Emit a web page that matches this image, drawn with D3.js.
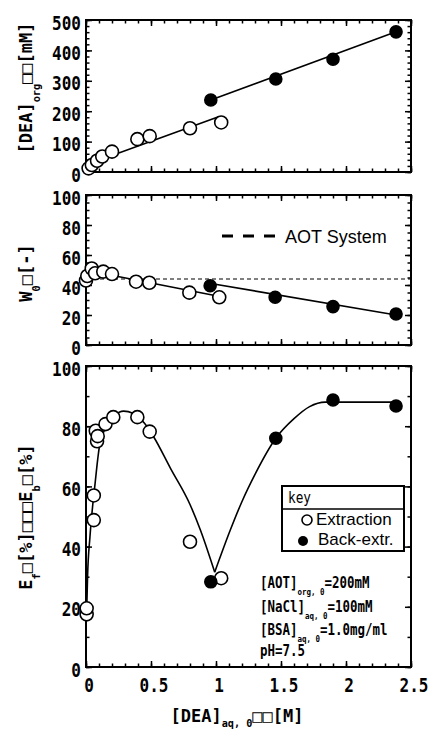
<!DOCTYPE html>
<html>
<head>
<meta charset="utf-8">
<script src="https://cdn.jsdelivr.net/npm/d3@7"></script>
<style>
  body { margin: 0; background: #fff; }
  svg { display: block; }
</style>
</head>
<body>
<svg id="chart" width="431" height="731"></svg>
<script>
// ---- data ----
// x: [DEA]aq,0 (M)
const xTicks = [0, 0.5, 1, 1.5, 2, 2.5];

// panel 1: [DEA]org (mM)
const deaOrgTicks = [0, 100, 200, 300, 400, 500];
const deaOrgExtraction = [[0.02, 12], [0.045, 23], [0.085, 37], [0.125, 51], [0.2, 67],
                          [0.395, 108], [0.49, 118], [0.8, 144], [1.04, 163]];
const deaOrgBack = [[0.96, 237], [1.46, 306], [1.9, 371], [2.385, 461]];
const deaOrgFitExtraction = [[0.03, 28], [1.02, 182]];
const deaOrgFitBack = [[0.96, 237], [2.385, 461]];

// panel 2: W0 (-)
const w0Ticks = [0, 20, 40, 60, 80, 100];
const w0Extraction = [[0.0, 43], [0.01, 46], [0.044, 51], [0.07, 47.8], [0.133, 48.9], [0.2, 47.3],
                      [0.385, 42.2], [0.487, 41.5], [0.795, 34.9], [1.025, 31.8]];
const w0Back = [[0.955, 39.5], [1.455, 31.8], [1.9, 25.6], [2.385, 20.7]];
const w0FitExtraction = [[0.05, 49], [1.02, 32.5]];
const w0FitBack = [[0.96, 41], [2.385, 20]];
const w0Aot = 44;

// panel 3: Ef / Eb (%)
const effTicks = [0, 20, 40, 60, 80, 100];
const effExtraction = [[0.005, 17.5], [0.005, 19.5], [0.06, 48.8], [0.06, 57], [0.075, 78.5], [0.085, 75],
                       [0.09, 76.7], [0.15, 80.7], [0.21, 83], [0.395, 83], [0.49, 78.2], [0.8, 41.6], [1.04, 29.5]];
const effBack = [[0.96, 28.3], [1.46, 76], [1.9, 88.7], [2.385, 86.7]];
const effCurveExtraction = [[0.005, 18], [0.012, 30], [0.03, 43], [0.05, 53], [0.07, 61], [0.09, 69],
                            [0.11, 75], [0.17, 80.5], [0.22, 83.5], [0.29, 85], [0.36, 84.3], [0.45, 81],
                            [0.52, 76.5], [0.65, 66], [0.8, 54], [0.88, 45.5], [0.99, 31.5]];
const effCurveBack = [[0.99, 31.5], [1.11, 45.5], [1.2, 55], [1.3, 64], [1.46, 76], [1.6, 82.5],
                      [1.72, 86.5], [1.84, 88], [2.0, 88], [2.385, 88]];

const legendLabels = ["Extraction", "Back-extr."];
const conditions = [
  [["[AOT]"], ["org, 0", "sub"], ["=200mM"]],
  [["[NaCl]"], ["aq, 0", "sub"], ["=100mM"]],
  [["[BSA]"], ["aq, 0", "sub"], ["=1.0mg/ml"]],
  [["pH=7.5"]]
];

// ---- drawing ----
const MONO = "'DejaVu Sans Mono', 'Liberation Mono', monospace";
const SANS = "'Liberation Sans', Arial, sans-serif";
const svg = d3.select("#chart");
const x = d3.scaleLinear([0, 2.5], [86, 411]);

function txt(parent, px, py, parts, o = {}) {
  const size = o.size || 16, sx = o.sx || 1, subShift = o.subShift || 0.45;
  const g = parent.append("g")
    .attr("transform", `translate(${px},${py})` + (o.rotate ? " rotate(-90)" : "") + ` scale(${sx},1)`);
  const t = g.append("text")
    .attr("text-anchor", o.anchor || "start")
    .attr("font-family", o.font || MONO)
    .attr("font-weight", o.weight || "bold")
    .attr("font-size", size)
    .attr("fill", "#000");
  let shift = 0;
  parts.forEach(([s, kind]) => {
    const sub = kind === "sub";
    const down = sub ? size * subShift : 0;
    t.append("tspan")
      .attr("dy", down - shift)
      .attr("font-size", sub ? size * 0.6 : size)
      .text(s);
    shift = down;
  });
  return t;
}

function panel(y, majors, minorStep, showX) {
  const g = svg.append("g");
  const [top, bottom] = [y.range()[1], y.range()[0]];
  const xMinor = d3.range(0, 2.5001, 0.1);
  const yMinor = d3.range(y.domain()[0], y.domain()[1] + 0.001, minorStep);
  const tickAxis = (axis, tv, size) => axis.tickValues(tv).tickSize(size).tickSizeOuter(0).tickFormat("");

  [[d3.axisBottom, bottom], [d3.axisTop, top]].forEach(([ax, pos]) => {
    g.append("g").attr("transform", `translate(0,${pos})`).call(tickAxis(ax(x), xMinor, -3.5));
    g.append("g").attr("transform", `translate(0,${pos})`).call(tickAxis(ax(x), xTicks, -6));
  });
  [[d3.axisLeft, x(0)], [d3.axisRight, x(2.5)]].forEach(([ax, pos]) => {
    g.append("g").attr("transform", `translate(${pos},0)`).call(tickAxis(ax(y), yMinor, -3.5));
    g.append("g").attr("transform", `translate(${pos},0)`).call(tickAxis(ax(y), majors, -6));
  });
  g.selectAll(".domain").remove();
  g.selectAll(".tick line").attr("stroke", "#000").attr("stroke-width", 1.5);

  g.append("rect")
    .attr("x", x(0)).attr("y", top)
    .attr("width", x(2.5) - x(0)).attr("height", bottom - top)
    .attr("fill", "none").attr("stroke", "#000").attr("stroke-width", 2);

  majors.forEach(v => txt(g, 81, y(v) + 9.5, [[String(v)]], { anchor: "end", size: 20, sx: 0.8 }));
  if (showX) {
    xTicks.forEach(v => txt(g, x(v) + 3, 692, [[String(v)]], { anchor: "middle", size: 20, sx: 0.8 }));
  }
  return g;
}

function lineTo(g, y, pts, curve, dash, width) {
  g.append("path")
    .attr("d", d3.line().x(d => x(d[0])).y(d => y(d[1])).curve(curve || d3.curveLinear)(pts))
    .attr("fill", "none").attr("stroke", "#000")
    .attr("stroke-width", width || 1.6)
    .attr("stroke-dasharray", dash || null);
}

function dots(g, y, pts, filled) {
  g.selectAll(null).data(pts).join("circle")
    .attr("cx", d => x(d[0])).attr("cy", d => y(d[1]))
    .attr("r", filled ? 6 : 6.5)
    .attr("fill", filled ? "#000" : "#fff")
    .attr("stroke", "#000").attr("stroke-width", 1.6);
}

// panel 1
const y1 = d3.scaleLinear([0, 500], [172, 20]);
const g1 = panel(y1, deaOrgTicks, 20, false);
lineTo(g1, y1, deaOrgFitExtraction);
lineTo(g1, y1, deaOrgFitBack);
dots(g1, y1, deaOrgExtraction, false);
dots(g1, y1, deaOrgBack, true);
txt(svg, 32, 88, [["[DEA]"], ["org", "sub"], ["□□[mM]"]], { rotate: true, anchor: "middle", size: 17 });

// panel 2
const y2 = d3.scaleLinear([0, 100], [345, 195]);
const g2 = panel(y2, w0Ticks, 5, false);
lineTo(g2, y2, [[0, w0Aot], [2.5, w0Aot]], null, "4,3", 1.2);
lineTo(g2, y2, w0FitExtraction);
lineTo(g2, y2, w0FitBack);
dots(g2, y2, w0Extraction, false);
dots(g2, y2, w0Back, true);
g2.append("line")
  .attr("x1", 222).attr("x2", 278).attr("y1", 236).attr("y2", 236)
  .attr("stroke", "#000").attr("stroke-width", 3).attr("stroke-dasharray", "11,10");
txt(g2, 285, 243, [["AOT System"]], { font: SANS, weight: "normal", size: 18 });
txt(svg, 32, 273, [["W"], ["0", "sub"], ["□[-]"]], { rotate: true, anchor: "middle", size: 17 });

// panel 3
const y3 = d3.scaleLinear([0, 100], [667, 366]);
const g3 = panel(y3, effTicks, 10, true);
lineTo(g3, y3, effCurveExtraction, d3.curveMonotoneX);
lineTo(g3, y3, effCurveBack, d3.curveMonotoneX);
dots(g3, y3, effExtraction, false);
dots(g3, y3, effBack, true);
txt(svg, 32, 517, [["E"], ["f", "sub"], ["□[%]□□□E"], ["b", "sub"], ["□[%]"]], { rotate: true, anchor: "middle", size: 17 });

// legend box
const lg = g3.append("g");
lg.append("rect").attr("x", 282).attr("y", 486).attr("width", 122).attr("height", 65)
  .attr("fill", "#fff").attr("stroke", "#000").attr("stroke-width", 2);
lg.append("line").attr("x1", 282).attr("x2", 404).attr("y1", 509).attr("y2", 509)
  .attr("stroke", "#000").attr("stroke-width", 1.5);
txt(lg, 288, 503, [["key"]], { size: 15, sx: 0.85, weight: "normal" });
lg.append("circle").attr("cx", 307).attr("cy", 520).attr("r", 5)
  .attr("fill", "#fff").attr("stroke", "#000").attr("stroke-width", 1.6);
lg.append("circle").attr("cx", 303).attr("cy", 541).attr("r", 5).attr("fill", "#000");
txt(lg, 316, 525, [[legendLabels[0]]], { font: SANS, weight: "normal", size: 17 });
txt(lg, 318, 545, [[legendLabels[1]]], { font: SANS, weight: "normal", size: 17 });

// conditions
const condY = [588, 612, 635, 656];
conditions.forEach((parts, i) => txt(g3, 260, condY[i], parts, { size: 16, sx: 0.78 }));

// x title
txt(svg, 237, 722, [["[DEA]"], ["aq, 0", "sub"], ["□□[M]"]], { anchor: "middle", size: 17, subShift: 0.3 });
</script>
</body>
</html>
